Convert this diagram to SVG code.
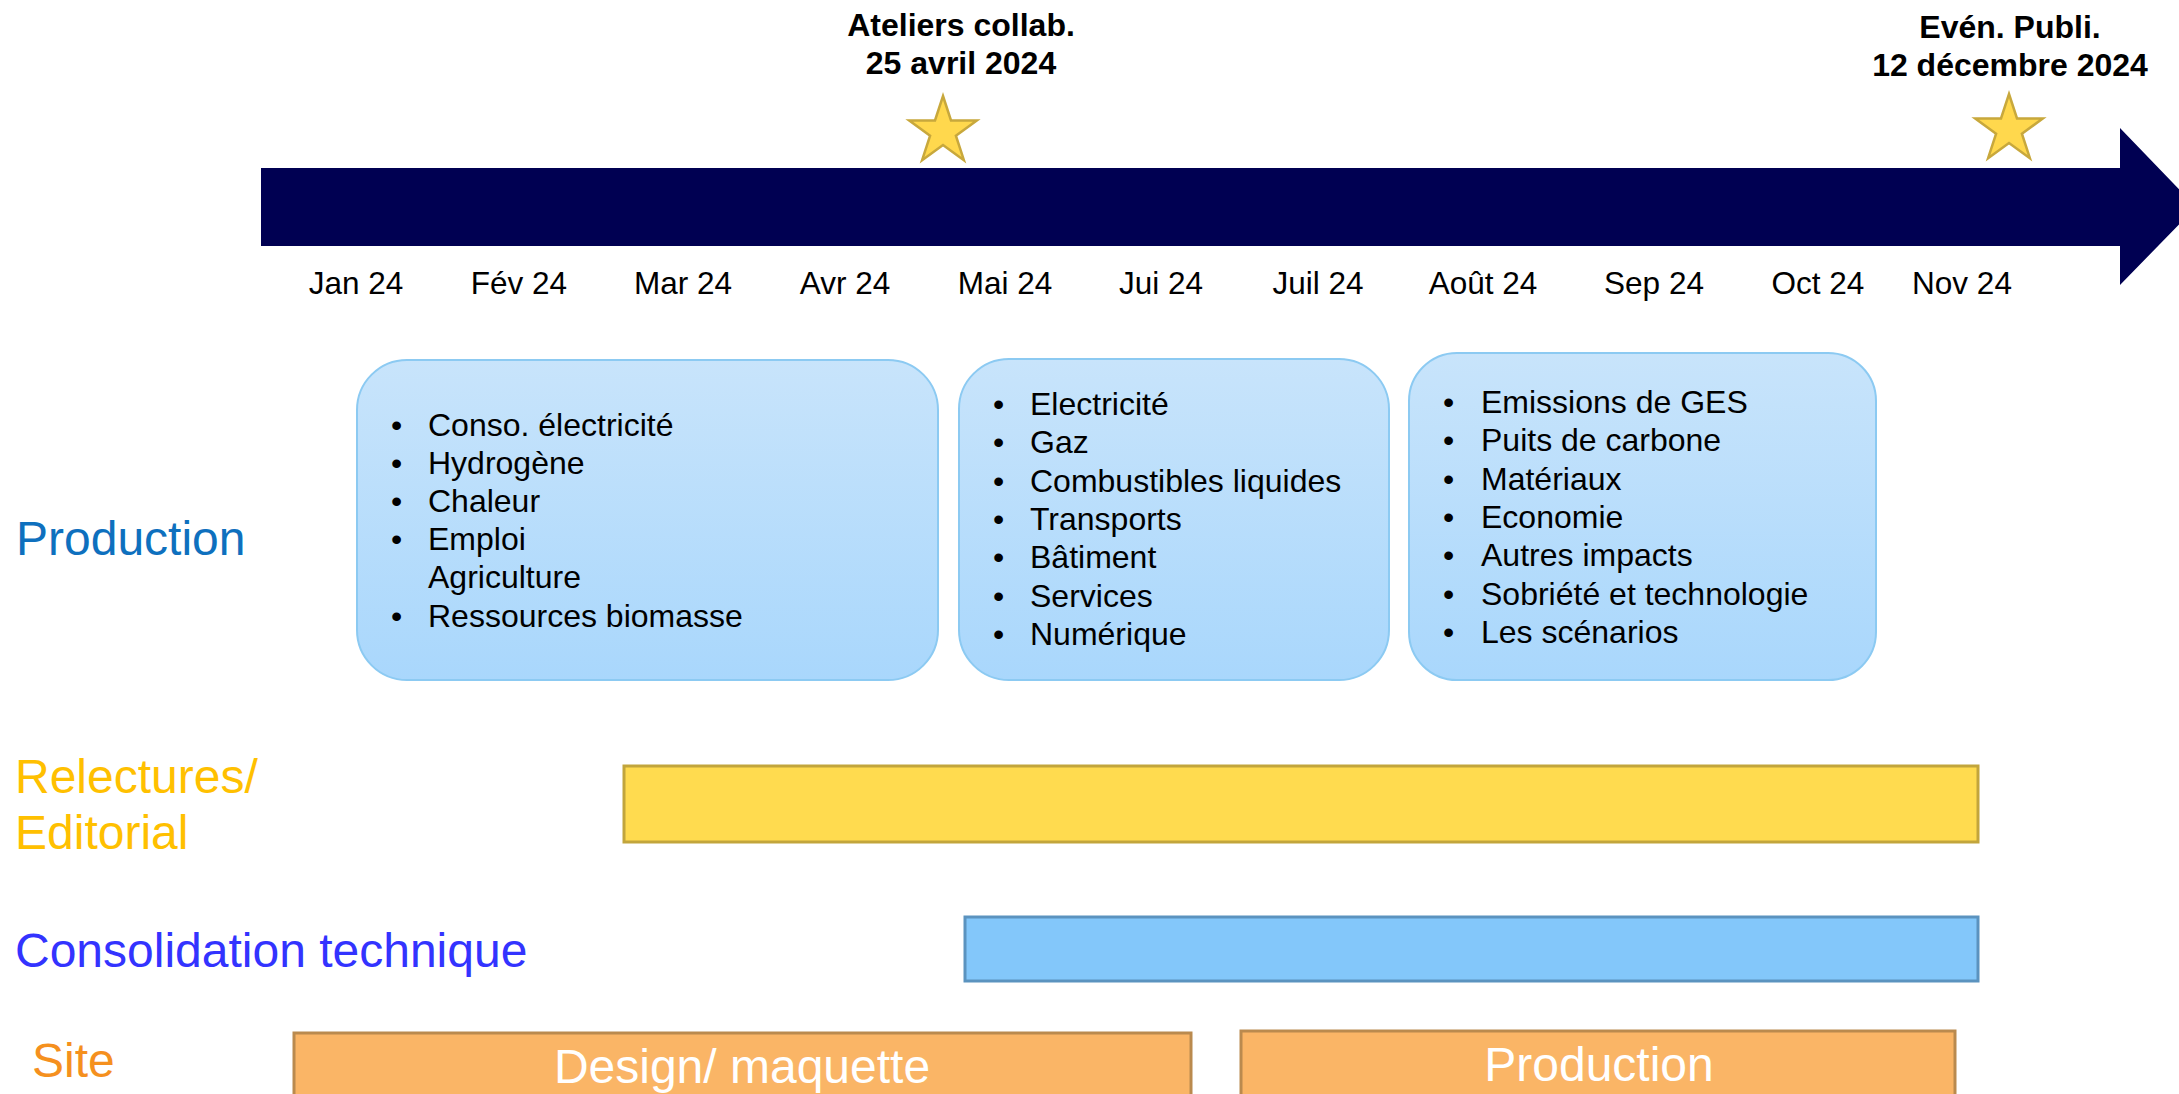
<svg xmlns="http://www.w3.org/2000/svg" width="2179" height="1094" viewBox="0 0 2179 1094">
  <defs>
    <linearGradient id="boxGrad" x1="0" y1="0" x2="0" y2="1">
      <stop offset="0" stop-color="#c8e4fb"/>
      <stop offset="1" stop-color="#a9d7fc"/>
    </linearGradient>
    <style>
      text { font-family: "Liberation Sans", Arial, sans-serif; }
      .title { font-size: 32px; font-weight: bold; fill: #000; text-anchor: middle; }
      .month { font-size: 31.5px; fill: #000; text-anchor: middle; }
      .star { fill: #ffd84d; stroke: #c8a83c; stroke-width: 2.5; stroke-linejoin: miter; }
      .box { fill: url(#boxGrad); stroke: #8ccaf2; stroke-width: 2; }
      .item { font-size: 32px; fill: #000; }
      .lane { font-size: 48px; }
      .barlabel { font-size: 48px; fill: #fff; text-anchor: middle; }
    </style>
  </defs>
  <rect width="2179" height="1094" fill="#ffffff"/>

  <g id="timeline">
    <polygon points="261,168 2120,168 2120,128 2196,207 2120,285 2120,246 261,246" fill="#000052"/>
  </g>

  <g id="milestone-ateliers">
    <text class="title" x="961" y="36">Ateliers collab.</text>
    <text class="title" x="961" y="74">25 avril 2024</text>
    <polygon class="star" points="943,96 951.0,120.5 976.8,120.5 955.9,135.7 963.9,160.2 943,145.0 922.1,160.2 930.1,135.7 909.2,120.5 935.0,120.5"/>
  </g>

  <g id="milestone-publi">
    <text class="title" x="2010" y="38">Evén. Publi.</text>
    <text class="title" x="2010" y="76">12 décembre 2024</text>
    <polygon class="star" points="2009,94 2017.0,118.5 2042.8,118.5 2021.9,133.7 2029.9,158.2 2009,143.0 1988.1,158.2 1996.1,133.7 1975.2,118.5 2001.0,118.5"/>
  </g>

  <g id="months">
    <text class="month" x="356" y="294">Jan 24</text>
    <text class="month" x="519" y="294">Fév 24</text>
    <text class="month" x="683" y="294">Mar 24</text>
    <text class="month" x="845" y="294">Avr 24</text>
    <text class="month" x="1005" y="294">Mai 24</text>
    <text class="month" x="1161" y="294">Jui 24</text>
    <text class="month" x="1318" y="294">Juil 24</text>
    <text class="month" x="1483" y="294">Août 24</text>
    <text class="month" x="1654" y="294">Sep 24</text>
    <text class="month" x="1818" y="294">Oct 24</text>
    <text class="month" x="1962" y="294">Nov 24</text>
  </g>

  <g id="lane-labels">
    <text class="lane" x="16" y="555" fill="#0e70be">Production</text>
    <text class="lane" x="15" y="793" fill="#ffc000">Relectures/</text>
    <text class="lane" x="15" y="849" fill="#ffc000">Editorial</text>
    <text class="lane" x="15" y="967" fill="#3333ff">Consolidation technique</text>
    <text class="lane" x="32" y="1077" fill="#f5901e">Site</text>
  </g>

  <g id="box-1">
    <rect class="box" x="357" y="360" width="581" height="320" rx="50" ry="50"/>
    <g class="item">
      <text x="391" y="436">•</text><text x="428" y="436">Conso. électricité</text>
      <text x="391" y="474">•</text><text x="428" y="474">Hydrogène</text>
      <text x="391" y="512">•</text><text x="428" y="512">Chaleur</text>
      <text x="391" y="550">•</text><text x="428" y="550">Emploi</text>
      <text x="428" y="588">Agriculture</text>
      <text x="391" y="627">•</text><text x="428" y="627">Ressources biomasse</text>
    </g>
  </g>

  <g id="box-2">
    <rect class="box" x="959" y="359" width="430" height="321" rx="50" ry="50"/>
    <g class="item">
      <text x="993" y="415">•</text><text x="1030" y="415">Electricité</text>
      <text x="993" y="453">•</text><text x="1030" y="453">Gaz</text>
      <text x="993" y="492">•</text><text x="1030" y="492">Combustibles liquides</text>
      <text x="993" y="530">•</text><text x="1030" y="530">Transports</text>
      <text x="993" y="568">•</text><text x="1030" y="568">Bâtiment</text>
      <text x="993" y="607">•</text><text x="1030" y="607">Services</text>
      <text x="993" y="645">•</text><text x="1030" y="645">Numérique</text>
    </g>
  </g>

  <g id="box-3">
    <rect class="box" x="1409" y="353" width="467" height="327" rx="48" ry="48"/>
    <g class="item">
      <text x="1443" y="413">•</text><text x="1481" y="413">Emissions de GES</text>
      <text x="1443" y="451">•</text><text x="1481" y="451">Puits de carbone</text>
      <text x="1443" y="490">•</text><text x="1481" y="490">Matériaux</text>
      <text x="1443" y="528">•</text><text x="1481" y="528">Economie</text>
      <text x="1443" y="566">•</text><text x="1481" y="566">Autres impacts</text>
      <text x="1443" y="605">•</text><text x="1481" y="605">Sobriété et technologie</text>
      <text x="1443" y="643">•</text><text x="1481" y="643">Les scénarios</text>
    </g>
  </g>

  <g id="bar-relectures">
    <rect x="624" y="766" width="1354" height="76" fill="#ffdb4f" stroke="#c2a53c" stroke-width="3"/>
  </g>

  <g id="bar-consolidation">
    <rect x="965" y="917" width="1013" height="64" fill="#83c7fa" stroke="#5b93bf" stroke-width="3"/>
  </g>

  <g id="bar-design">
    <rect x="294" y="1033" width="897" height="80" fill="#fab566" stroke="#ba8a4e" stroke-width="3"/>
    <text class="barlabel" x="742" y="1083">Design/ maquette</text>
  </g>

  <g id="bar-production">
    <rect x="1241" y="1031" width="714" height="80" fill="#fab566" stroke="#ba8a4e" stroke-width="3"/>
    <text class="barlabel" x="1599" y="1081">Production</text>
  </g>

  <g id="connectors"></g>
</svg>
